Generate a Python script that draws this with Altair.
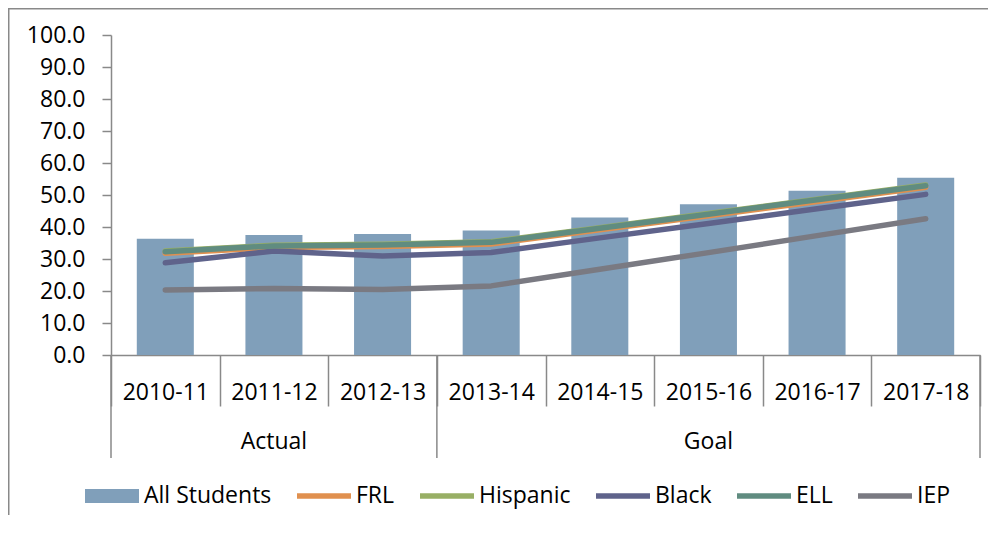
import altair as alt
import pandas as pd

FONT = "Open Sans"
GRAY = "#898989"

YEARS = ["2010-11", "2011-12", "2012-13", "2013-14", "2014-15", "2015-16", "2016-17", "2017-18"]
ALL_STUDENTS = [36.3, 37.5, 37.8, 38.9, 43.0, 47.1, 51.3, 55.4]
FRL = [31.8, 33.6, 33.9, 34.7, 39.1, 43.5, 48.0, 52.4]
HISPANIC = [32.5, 34.3, 34.6, 35.4, 39.8, 44.2, 48.7, 53.1]
BLACK = [28.8, 32.5, 30.9, 32.0, 36.6, 41.1, 45.7, 50.2]
ELL = [32.3, 34.1, 34.4, 35.2, 39.6, 44.0, 48.5, 52.9]
IEP = [20.3, 20.8, 20.5, 21.6, 26.8, 32.0, 37.3, 42.6]
Y_TICKS = [0, 10, 20, 30, 40, 50, 60, 70, 80, 90, 100]

SERIES = ["All Students", "FRL", "Hispanic", "Black", "ELL", "IEP"]
COLORS = ["#809FBA", "#E0904F", "#98AF65", "#5F638B", "#608C80", "#7A7A82"]
LINE_VALUES = [FRL, HISPANIC, BLACK, ELL, IEP]

GROUP_LABELS = ["Actual", "Goal"]
GROUP_CENTER_YEARS = ["2011-12", "2015-16"]
GROUP_START_YEARS = ["2010-11", "2013-14"]
GROUP_END_YEARS = ["2017-18"]

BAR_SHAPE = "M-1,-0.26H1V0.26H-1Z"
LINE_SHAPE = "M-1,-0.1H1V0.1H-1Z"
SHAPES = [BAR_SHAPE] + [LINE_SHAPE] * 5

W, H = 869, 320
PAD = {"left": 103, "top": 27, "right": 8, "bottom": 160}

xscale = alt.Scale(domain=YEARS, paddingInner=0, paddingOuter=0)
yscale = alt.Scale(domain=[0, 100], nice=False)

X_AXIS = alt.Axis(
    labelAngle=0, labelFont=FONT, labelFontSize=23, labelColor="black",
    labelBaseline="middle", labelPadding=-14, tickBand="extent",
    tickSize=51, tickColor=GRAY, tickWidth=1.5, domainColor=GRAY,
    domainWidth=1.5, grid=False, title=None, labelOverlap=False,
)
Y_AXIS = alt.Axis(
    values=Y_TICKS, tickCount=len(Y_TICKS) + 5, format=".1f", labelFont=FONT,
    labelFontSize=23, labelColor="black", labelPadding=17, tickSize=9,
    tickColor=GRAY, tickWidth=1.5, domainColor=GRAY, domainWidth=1.5,
    grid=False, title=None, labelOverlap=False,
)


def xenc(**kw):
    return alt.X("year:N", sort=YEARS, scale=xscale, title=None, axis=X_AXIS, **kw)


def yenc():
    return alt.Y("value:Q", title=None, scale=yscale, axis=Y_AXIS)


bars_df = pd.DataFrame({"year": YEARS, "value": ALL_STUDENTS})

bars = alt.Chart(bars_df).mark_bar(
    width=alt.RelativeBandSize(0.525), color=COLORS[0]
).encode(x=xenc(), y=yenc())

layers = [bars]
for name, vals, col in zip(SERIES[1:], LINE_VALUES, COLORS[1:]):
    df = pd.DataFrame({"year": YEARS, "value": vals})
    layers.append(
        alt.Chart(df).mark_line(
            strokeWidth=5.5, strokeCap="round", strokeJoin="round", color=col
        ).encode(x=xenc(), y=yenc())
    )

# separators for the group row
start_df = pd.DataFrame({"year": GROUP_START_YEARS})
end_df = pd.DataFrame({"year": GROUP_END_YEARS})
for df, bp in [(start_df, 0), (end_df, 1)]:
    layers.append(
        alt.Chart(df).mark_rule(color=GRAY, strokeWidth=1.5).encode(
            x=xenc(bandPosition=bp),
            y=alt.value(H),
            y2=alt.value(H + 103),
        )
    )

groups_df = pd.DataFrame({"year": GROUP_CENTER_YEARS, "label": GROUP_LABELS})
layers.append(
    alt.Chart(groups_df).mark_text(
        font=FONT, fontSize=23, color="black", baseline="middle"
    ).encode(
        x=xenc(),
        y=alt.value(H + 87),
        text="label:N",
    )
)

# legend carrier (no rows drawn)
legend_df = pd.DataFrame({"series": SERIES})
leg = alt.Legend(
    orient="none", legendX=-26, legendY=434, direction="horizontal", title=None,
    labelFont=FONT, labelFontSize=23, labelColor="black", symbolSize=2916,
    symbolStrokeWidth=0, columnPadding=25, labelOffset=5, padding=0,
)
layers.append(
    alt.Chart(legend_df).transform_filter("false").mark_point(filled=True, opacity=1).encode(
        color=alt.Color("series:N", scale=alt.Scale(domain=SERIES, range=COLORS), legend=leg),
        shape=alt.Shape("series:N", scale=alt.Scale(domain=SERIES, range=SHAPES), legend=leg),
    )
)

# chart-area frame (left and top edges)
one = pd.DataFrame({"k": [0]})
layers.append(
    alt.Chart(one).mark_rule(color=GRAY, strokeWidth=1.5).encode(
        x=alt.value(-PAD["left"] + 0.75), y=alt.value(-PAD["top"] + 0.75),
        y2=alt.value(H + PAD["bottom"]),
    )
)
layers.append(
    alt.Chart(one).mark_rule(color=GRAY, strokeWidth=1.5).encode(
        x=alt.value(-PAD["left"]), x2=alt.value(W + PAD["right"]),
        y=alt.value(-PAD["top"] + 0.75),
    )
)

chart = alt.layer(*layers).properties(
    width=W, height=H,
    autosize=alt.AutoSizeParams(type="none"),
    padding=PAD,
).configure_view(stroke=None)

chart.save("out.html", embed_options={"renderer": "svg", "actions": False})
